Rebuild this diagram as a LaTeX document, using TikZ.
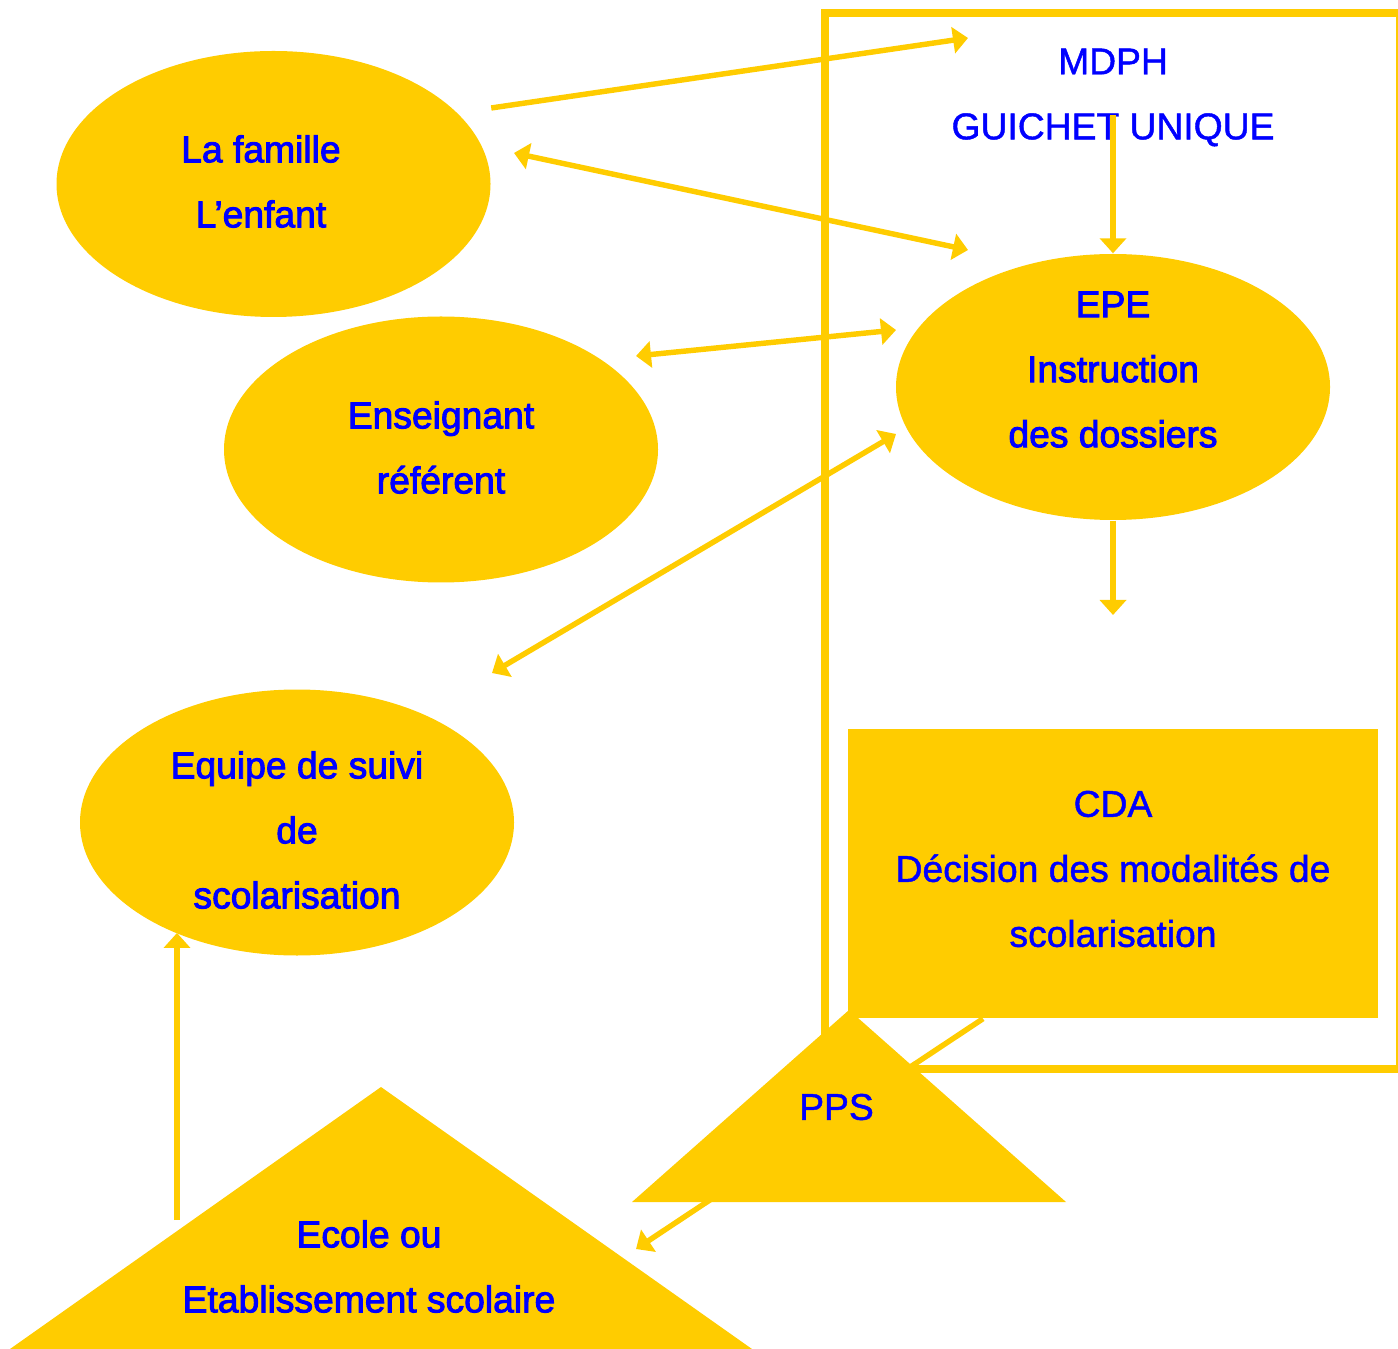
\documentclass[tikz,border=0pt]{standalone}
\usepackage{fontspec}
\setmainfont{Liberation Sans}
\newfontfamily\heavyfont[FakeBold=2.5]{Liberation Sans}
\newfontfamily\plainfont[FakeBold=1.2]{Liberation Sans}
\usetikzlibrary{shapes.geometric,arrows.meta,positioning}
\definecolor{gold}{HTML}{FFCC00}
\definecolor{ink}{HTML}{0000FF}
\tikzset{
  bubble/.style={ellipse, fill=gold, minimum width=4.34cm, minimum height=2.66cm, inner sep=0pt},
  txt/.style={text=ink, align=center, inner sep=0pt, font=\fontsize{10.6}{18.5}\selectfont\plainfont},
  heavy/.style={txt, font=\fontsize{10.6}{18.5}\selectfont\heavyfont},
  link/.style={draw=gold, line width=1.55pt, ->},
  twoway/.style={draw=gold, line width=1.55pt, <->},
}
\begin{document}
\begin{tikzpicture}[>={Triangle[length=0.15cm,width=0.26cm]}]
\useasboundingbox (0,0) rectangle (13.98,-13.49);

% cadre MDPH
\draw[gold, line width=2.3pt] (8.25,-0.13) rectangle (14.00,-10.69);

\node[bubble] (famille) at (2.735,-1.84) {};
\node[bubble] (enseignant) at (4.41,-4.495) {};
\node[bubble] (epe) at (11.13,-3.87) {};
\node[bubble] (equipe) at (2.97,-8.225) {};
\node[rectangle, fill=gold, minimum width=5.30cm, minimum height=2.89cm] (cda) at (11.13,-8.735) {};

\node[heavy] (famillet) at ([shift={(-0.125,0.025)}]famille) {La famille\\L’enfant};
\node[heavy] (enseignantt) at ([yshift=0.02cm]enseignant) {Enseignant\\référent};
\node[heavy] (epet) at ([yshift=0.175cm]epe) {EPE\\Instruction\\des dossiers};
\node[heavy] (equipet) at ([yshift=-0.075cm]equipe) {Equipe de suivi\\de\\scolarisation};
\node[txt] (cdat) at ([yshift=0.045cm]cda) {CDA\\Décision des modalités de\\scolarisation};
\node[txt] (mdph) at (11.13,-0.975) {MDPH\\GUICHET UNIQUE};

% extremites libres
\coordinate (famtop) at ([yshift=0.76cm]famille.east);
\coordinate (mdphin) at (9.68,-0.38);
\coordinate (famside) at (5.14,-1.53);
\coordinate (epein) at (9.68,-2.50);
\coordinate (enscote) at (6.36,-3.56);
\coordinate (epegauche) at (8.96,-3.30);
\coordinate (equipehaut) at (4.92,-6.73);
\coordinate (epebas) at (8.96,-4.34);
\coordinate (guichet) at (11.13,-1.15);
\coordinate (verscda) at (11.13,-6.15);
\coordinate (cdabas) at ([xshift=-1.30cm]cda.south);
\coordinate (versecole) at (6.36,-12.49);
\coordinate (ecoleup) at (1.77,-12.20);

\draw[link] (famtop) -- (mdphin);
\draw[twoway] (famside) -- (epein);
\draw[twoway] (enscote) -- (epegauche);
\draw[twoway] (equipehaut) -- (epebas);
\draw[link] (guichet) -- (epe.north);
\draw[link] (epe.south) -- (verscda);
\draw[link] (cdabas) -- (versecole);
\draw[link] (ecoleup) -- (ecoleup |- equipe.222.6);

% triangles
\coordinate (ppstop) at (8.49,-10.10);
\fill[gold] (ppstop) -- (6.32,-12.02) -- (10.66,-12.02) -- cycle;
\node[txt] (pps) at (8.365,-11.07) {PPS};
\coordinate (ecoletop) at (3.81,-10.87);
\fill[gold] (ecoletop) -- (0.10,-13.49) -- (7.52,-13.49) -- cycle;
\node[heavy] (ecole) at (3.69,-12.665) {Ecole ou\\Etablissement scolaire};
\end{tikzpicture}
\end{document}
